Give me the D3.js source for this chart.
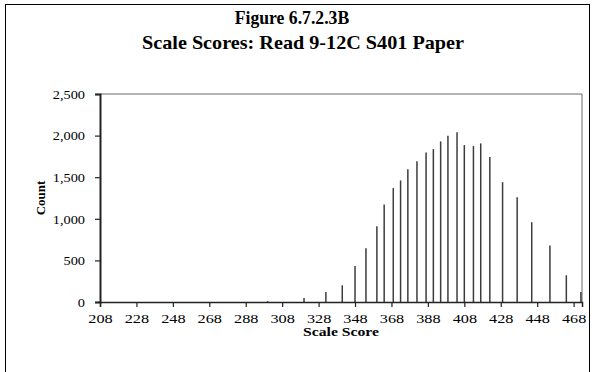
<!DOCTYPE html>
<html><head><meta charset="utf-8">
<script src="https://cdn.jsdelivr.net/npm/d3@7"></script>
<style>body{margin:0;background:#fff} svg{display:block}</style>
</head><body><svg id="c" width="595" height="372"></svg>
<script>
const titleLines = ["Figure 6.7.2.3B", "Scale Scores: Read 9-12C S401 Paper"];
const xLabel = "Scale Score";
const yLabel = "Count";
const scores = [300, 320, 332, 341, 348, 354, 360, 364, 369, 373, 377, 382, 387, 391, 395, 399, 404, 408, 413, 417, 422, 429, 437, 445, 455, 464, 472];
const counts = [10, 48, 120, 201, 432, 646, 911, 1172, 1369, 1461, 1597, 1693, 1798, 1838, 1930, 1998, 2039, 1886, 1874, 1906, 1742, 1441, 1260, 959, 679, 321, 120];
const xTicks = [208, 228, 248, 268, 288, 308, 328, 348, 368, 388, 408, 428, 448, 468];
const yTicks = [0, 500, 1000, 1500, 2000, 2500];

const serif = "'Liberation Serif','Times New Roman',serif";
const svg = d3.select("#c");
const L = 100, R = 582, T = 94, B = 302;

// horizontally scale a text selection about its anchor so the reference node reaches the target width
function fitX(sel, refNode, target) {
  const w = refNode.getComputedTextLength();
  const k = w > 0 ? target / w : 1;
  sel.each(function () {
    const t = d3.select(this);
    const ax = +t.attr("x") || 0, ay = +t.attr("y") || 0;
    t.attr("transform", `translate(${ax},${ay}) scale(${k},1) translate(${-ax},${-ay})`);
  });
}

// outer frame
svg.append("rect").attr("x", 5.5).attr("y", 4.5).attr("width", 584).attr("height", 420)
  .attr("fill", "none").attr("stroke", "#000").attr("stroke-width", 1);

// title
const tpos = [[292, 23.7, 114.5], [303, 49, 322]];
titleLines.forEach((t, i) => {
  const el = svg.append("text").attr("x", tpos[i][0]).attr("y", tpos[i][1])
    .attr("text-anchor", "middle").attr("font-family", serif)
    .attr("font-weight", "bold").attr("font-size", "18.5px").attr("fill", "#000").text(t);
  fitX(el, el.node(), tpos[i][2]);
});

const x = d3.scaleLinear().domain([208, 472.6]).range([L, R]);
const y = d3.scaleLinear().domain([0, 2500]).range([B, T]);

// plot area border (top/right)
svg.append("path").attr("d", `M${L},${T}H${R}V${B}`).attr("fill", "none")
  .attr("stroke", "#6a6a6a").attr("stroke-width", 1);

// bars
svg.append("g").selectAll("line").data(scores).join("line")
  .attr("x1", d => x(d)).attr("x2", d => x(d))
  .attr("y1", (d, i) => y(counts[i])).attr("y2", y(0))
  .attr("stroke", "#3c3c3c").attr("stroke-width", 1.5);

// axes
const xa = svg.append("g").attr("transform", `translate(0,${B})`)
  .call(d3.axisBottom(x).tickValues(xTicks).tickSize(5).tickFormat(d3.format("d")));
xa.select(".domain").attr("stroke", "#222").attr("stroke-width", 1.5);
xa.selectAll(".tick line").attr("stroke", "#222").attr("stroke-width", 1.2);
const xt = xa.selectAll("text").attr("font-family", serif).attr("font-size", "13.5px").attr("fill", "#000")
  .attr("dy", null).attr("y", 20.7);
fitX(xt, xt.nodes()[0], 24.4);

const ya = svg.append("g").attr("transform", `translate(${L},0)`)
  .call(d3.axisLeft(y).tickValues(yTicks).tickSize(5).tickFormat(d3.format(",")));
ya.select(".domain").attr("stroke", "#222").attr("stroke-width", 2);
ya.selectAll(".tick line").attr("stroke", "#222").attr("stroke-width", 1.2);
const yt = ya.selectAll("text").attr("font-family", serif).attr("font-size", "12.5px").attr("fill", "#000")
  .attr("x", -15).attr("y", 0).attr("dy", "0.34em");
fitX(yt, yt.nodes()[yt.size() - 1], 32.3);

// axis titles
const xl = svg.append("text").attr("x", 341).attr("y", 336.5)
  .attr("text-anchor", "middle").attr("font-family", serif).attr("font-weight", "bold")
  .attr("font-size", "12.5px").attr("fill", "#000").text(xLabel);
fitX(xl, xl.node(), 76);
svg.append("text").attr("transform", "translate(45,198) rotate(-90)")
  .attr("text-anchor", "middle").attr("font-family", serif).attr("font-weight", "bold")
  .attr("font-size", "13px").attr("fill", "#000").text(yLabel);
</script></body></html>
